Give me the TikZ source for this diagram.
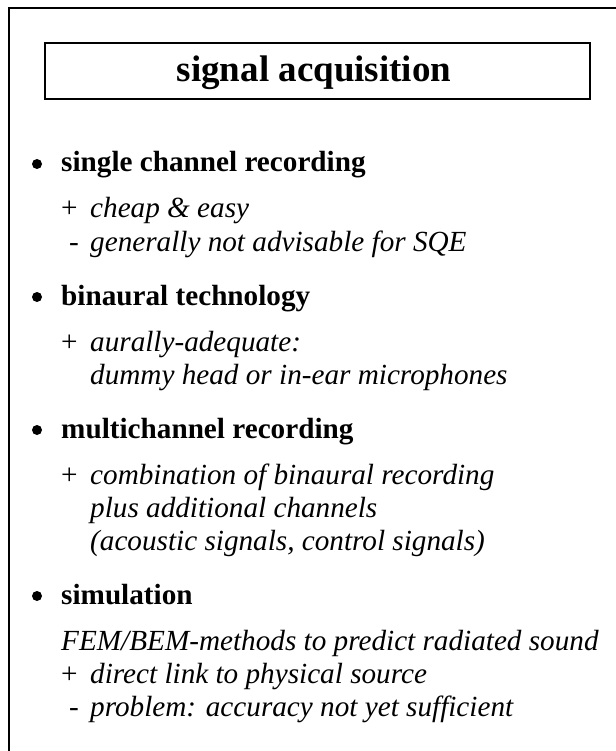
\documentclass[tikz,border=0pt]{standalone}
\usepackage{fontspec}
\setmainfont{Liberation Serif}
\begin{document}
\begin{tikzpicture}[x=1pt,y=1pt,
  frame/.style={line width=2pt},
  titlebox/.style={draw, line width=2pt, minimum width=545pt, minimum height=56pt, inner sep=0},
  titletext/.style={anchor=base, inner sep=0, font=\fontsize{37}{40}\selectfont\bfseries},
  head/.style={anchor=base west, inner sep=0, font=\fontsize{29.2}{33}\selectfont\bfseries},
  item/.style={anchor=base west, inner sep=0, font=\fontsize{29.2}{33}\selectfont\itshape},
  sign/.style={anchor=base west, inner sep=0, font=\fontsize{29.2}{33}\selectfont},
  dot/.style={circle, fill=black, inner sep=0, minimum size=10pt}]
\useasboundingbox (0,0) rectangle (615,-751);
% outer frame (left and top edges)
\draw[frame] (9,-760) -- (9,-8) -- (625,-8);
% title
\node[titlebox] (tb) at (317.5,-71) {};
\node[titletext] (title) at (314,-82) {signal acquisition};
% single channel recording
\node[dot] (d1) at (37,-164) {};
\node[head] (h1) at (61,-172) {single channel recording};
\node[sign] (p1) at (61,-218) {+};
\node[item] (t1a) at (90,-218) {cheap \& easy};
\node[sign] (m1) at (69,-251) {-};
\node[item] (t1b) at (90,-251) {generally not advisable for SQE};
% binaural technology
\node[dot] (d2) at (37,-297) {};
\node[head] (h2) at (61,-305) {binaural technology};
\node[sign] (p2) at (61,-351) {+};
\node[item] (t2a) at (90,-351) {aurally-adequate:};
\node[item] (t2b) at (90,-384) {dummy head or in-ear microphones};
% multichannel recording
\node[dot] (d3) at (37,-430) {};
\node[head] (h3) at (61,-438) {multichannel recording};
\node[sign] (p3) at (61,-484) {+};
\node[item] (t3a) at (90,-484) {combination of binaural recording};
\node[item] (t3b) at (90,-517) {plus additional channels};
\node[item] (t3c) at (90,-550) {(acoustic signals, control signals)};
% simulation
\node[dot] (d4) at (37,-596) {};
\node[head] (h4) at (61,-604) {simulation};
\node[item] (t4a) at (61,-650) {FEM/BEM-methods to predict radiated sound};
\node[sign] (p4) at (61,-683) {+};
\node[item] (t4b) at (90,-683) {direct link to physical source};
\node[sign] (m4) at (69,-716) {-};
\node[item] (t4c) at (90,-716) {problem: accuracy not yet sufficient};
\end{tikzpicture}
\end{document}
